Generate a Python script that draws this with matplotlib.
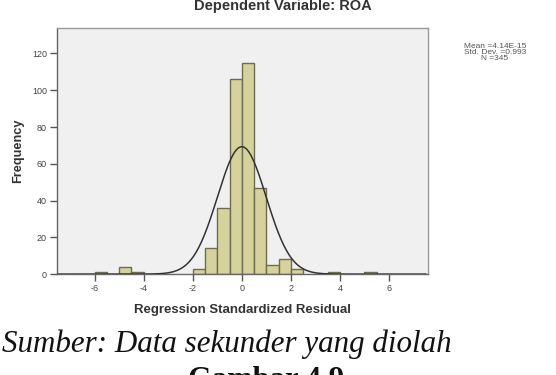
"""Histogram of regression standardized residuals (dependent variable: ROA) with normal curve."""

import numpy as np
import matplotlib
matplotlib.use("Agg")
import matplotlib.pyplot as plt

# histogram data (bin width 0.5)
bin_left = [-6.0, -5.0, -4.5, -2.0, -1.5, -1.0, -0.5, 0.0, 0.5, 1.0, 1.5, 2.0, 3.5, 5.0]
counts = [1, 4, 1, 3, 14, 36, 106, 115, 47, 5, 8, 3, 1, 1]
bin_width = 0.5

# summary statistics shown next to the plot
mean_value = 4.14e-15
std_dev = 0.993
n_obs = 345
stats_lines = ["Mean =4.14E-15", "Std. Dev. =0.993", "N =345"]

x_ticks = [-6, -4, -2, 0, 2, 4, 6]
y_ticks = [0, 20, 40, 60, 80, 100, 120]


def main():
    plt.rcParams['font.family'] = ['Liberation Sans', 'DejaVu Sans']
    plt.rcParams['axes.unicode_minus'] = False
    fig = plt.figure(figsize=(5.56, 3.75), dpi=100)
    ax = fig.add_axes([0.102, 0.269, 0.668, 0.657])
    ax.set_facecolor('#f0f0f0')

    ax.bar(bin_left, counts, width=bin_width, align='edge', color='#d6d29c',
           edgecolor='#6e6c52', linewidth=1.0, zorder=2)

    # normal curve from the reported mean / sd / N
    xs = np.linspace(-7.5, 7.5, 400)
    pdf = np.exp(-0.5 * ((xs - mean_value) / std_dev) ** 2) / (std_dev * np.sqrt(2 * np.pi))
    ax.plot(xs, n_obs * bin_width * pdf, color='#333333', linewidth=1.1, zorder=3)

    ax.set_xlim(-7.55, 7.6)
    ax.set_ylim(0, 134)
    ax.set_xticks(x_ticks)
    ax.set_yticks(y_ticks)
    ax.tick_params(axis='both', direction='out', length=5, width=1.0, color='#555555',
                   labelsize=6.5, labelcolor='#444444', pad=2)
    for side in ['left', 'bottom', 'top', 'right']:
        ax.spines[side].set_color('#666666')
        ax.spines[side].set_linewidth(1.0)
    ax.spines['top'].set_color('#999999')
    ax.spines['right'].set_color('#999999')

    ax.set_xlabel("Regression Standardized Residual", fontsize=9.5, fontweight='bold',
                  color='#333333', labelpad=8)
    ax.set_ylabel("Frequency", fontsize=9.2, fontweight='bold', color='#333333', labelpad=6)

    fig.text(283 / 556, 1 - 6 / 375, "Dependent Variable: ROA", ha='center', va='center',
             fontsize=10.5, fontweight='bold', color='#333333')

    for i, line in enumerate(stats_lines):
        fig.text(495 / 556, 1 - (46 + 6 * i) / 375, line, ha='center', va='center',
                 fontsize=6, color='#555555')

    fig.text(2 / 556, 1 - 352 / 375, "Sumber: Data sekunder yang diolah", ha='left',
             va='baseline', fontsize=22.3, fontstyle='italic', family='Liberation Serif', color='#111111')
    fig.text(266 / 556, 1 - 388 / 375, "Gambar 4.9", ha='center', va='baseline',
             fontsize=22, fontweight='bold', family='Liberation Serif', color='#111111')

    fig.savefig("out.png", dpi=100, facecolor='white')


if __name__ == "__main__":
    main()
